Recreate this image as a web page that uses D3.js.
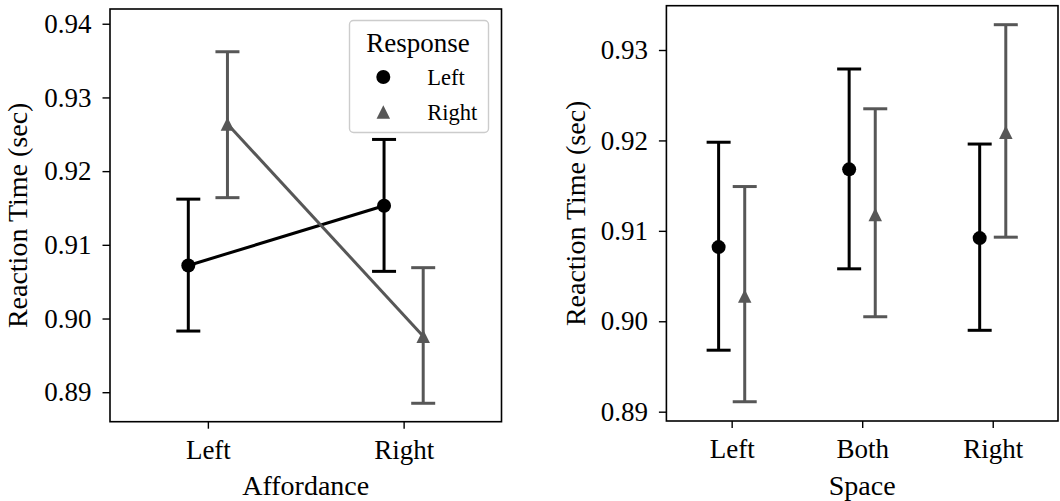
<!DOCTYPE html>
<html>
<head>
<meta charset="utf-8">
<script src="https://cdn.jsdelivr.net/npm/d3@7"></script>
<style>
  html, body { margin: 0; padding: 0; background: #fff; }
  svg { display: block; font-family: "Liberation Serif", "Times New Roman", serif; }
</style>
</head>
<body>
<svg id="chart" width="1060" height="501"></svg>
<script>
// ---- data ----
const affordance = ["Left", "Right"];
const affLeftMean = [0.9072, 0.9153];
const affLeftLo = [0.8983, 0.9064];
const affLeftHi = [0.9162, 0.9243];
const affRightMean = [0.9264, 0.8976];
const affRightLo = [0.9164, 0.8885];
const affRightHi = [0.9362, 0.9069];

const space = ["Left", "Both", "Right"];
const spLeftMean = [0.9082, 0.9168, 0.9092];
const spLeftLo = [0.8968, 0.9058, 0.8990];
const spLeftHi = [0.9198, 0.9279, 0.9196];
const spRightMean = [0.9028, 0.9118, 0.9209];
const spRightLo = [0.8911, 0.9005, 0.9093];
const spRightHi = [0.9149, 0.9235, 0.9328];

const affTicks = [0.89, 0.90, 0.91, 0.92, 0.93, 0.94];
const spTicks = [0.89, 0.90, 0.91, 0.92, 0.93];
const responses = ["Left", "Right"];

const black = "#000";
const grey = "#575757";
const dodge = 0.1;
const lw = 3;

// matplotlib "^" marker: centred on its bounding box
const triangleUp = {
    draw(ctx, size) {
        const h = Math.sqrt(size);
        ctx.moveTo(0, -h / 2);
        ctx.lineTo(h / 2, h / 2);
        ctx.lineTo(-h / 2, h / 2);
        ctx.closePath();
    }
};

const svg = d3.select("#chart");

function drawPanel(cfg) {
    const { left, top, right, bottom } = cfg.box;
    const g = svg.append("g");

    const x = d3.scaleLinear()
        .domain([-0.5, cfg.cats.length - 0.5])
        .range([left, right]);
    const y = d3.scaleLinear()
        .domain(cfg.domain)
        .range([bottom, top]);

    const xAxis = d3.axisBottom(x)
        .tickValues(d3.range(cfg.cats.length))
        .tickFormat(i => cfg.cats[i])
        .tickSize(7)
        .tickPadding(11);
    const yAxis = d3.axisLeft(y)
        .tickValues(cfg.ticks)
        .tickFormat(d3.format(".2f"))
        .tickSize(7.5)
        .tickPadding(11);

    const gx = g.append("g").attr("transform", `translate(0,${bottom})`).call(xAxis);
    const gy = g.append("g").attr("transform", `translate(${left},0)`).call(yAxis);
    [gx, gy].forEach(a => {
        a.select(".domain").remove();
        a.selectAll(".tick line").attr("stroke", "#000").attr("stroke-width", 1.4);
        a.selectAll(".tick text")
            .attr("fill", "#000")
            .style("font-family", "Liberation Serif")
            .style("font-size", "27px");
    });

    cfg.series.forEach(s => {
        const pts = s.mean.map((m, i) => ({ x: x(i + s.offset), m: y(m), lo: y(s.lo[i]), hi: y(s.hi[i]) }));
        const sg = g.append("g");

        if (cfg.join) {
            sg.append("path")
                .datum(pts)
                .attr("d", d3.line().x(d => d.x).y(d => d.m))
                .attr("fill", "none")
                .attr("stroke", s.color)
                .attr("stroke-width", lw);
        }

        const eb = sg.selectAll(".eb").data(pts).join("g").attr("class", "eb")
            .attr("stroke", s.color).attr("stroke-width", lw);
        eb.append("line").attr("x1", d => d.x).attr("x2", d => d.x).attr("y1", d => d.lo).attr("y2", d => d.hi);
        eb.append("line").attr("x1", d => d.x - 12).attr("x2", d => d.x + 12).attr("y1", d => d.lo).attr("y2", d => d.lo);
        eb.append("line").attr("x1", d => d.x - 12).attr("x2", d => d.x + 12).attr("y1", d => d.hi).attr("y2", d => d.hi);

        sg.selectAll(".mk").data(pts).join("path").attr("class", "mk")
            .attr("transform", d => `translate(${d.x},${d.m})`)
            .attr("d", d3.symbol().type(s.shape === "circle" ? d3.symbolCircle : triangleUp)
                .size(s.shape === "circle" ? Math.PI * 7 * 7 : 13.5 * 13.5))
            .attr("fill", s.color);
    });

    // frame
    g.append("rect")
        .attr("x", left).attr("y", top)
        .attr("width", right - left).attr("height", bottom - top)
        .attr("fill", "none").attr("stroke", "#000").attr("stroke-width", 1.6);

    g.append("text")
        .attr("x", (left + right) / 2).attr("y", 495)
        .attr("text-anchor", "middle")
        .style("font-size", "28px")
        .text(cfg.xlabel);

    g.append("text")
        .attr("transform", `translate(${cfg.ylabelX},${(top + bottom) / 2}) rotate(-90)`)
        .attr("text-anchor", "middle")
        .style("font-size", "28px")
        .text("Reaction Time (sec)");

    return g;
}

const leftPanel = drawPanel({
    box: { left: 110, top: 9, right: 501.5, bottom: 421.7 },
    cats: affordance,
    domain: [0.886, 0.9420],
    ticks: affTicks,
    join: true,
    xlabel: "Affordance",
    ylabelX: 27,
    series: [
        { mean: affLeftMean, lo: affLeftLo, hi: affLeftHi, color: black, shape: "circle", offset: -dodge },
        { mean: affRightMean, lo: affRightLo, hi: affRightHi, color: grey, shape: "triangle", offset: dodge }
    ]
});

drawPanel({
    box: { left: 666.4, top: 5.7, right: 1058, bottom: 421 },
    cats: space,
    domain: [0.88897, 0.9349],
    ticks: spTicks,
    join: false,
    xlabel: "Space",
    ylabelX: 585,
    series: [
        { mean: spLeftMean, lo: spLeftLo, hi: spLeftHi, color: black, shape: "circle", offset: -dodge },
        { mean: spRightMean, lo: spRightLo, hi: spRightHi, color: grey, shape: "triangle", offset: dodge }
    ]
});

// legend (left panel only)
const legend = leftPanel.append("g");
legend.append("rect")
    .attr("x", 349.5).attr("y", 20.5).attr("width", 139).attr("height", 112)
    .attr("rx", 4).attr("ry", 4)
    .attr("fill", "#fff").attr("fill-opacity", 0.8)
    .attr("stroke", "#cccccc").attr("stroke-width", 1.4);
legend.append("text")
    .attr("x", 418).attr("y", 51.5)
    .attr("text-anchor", "middle")
    .style("font-size", "27px")
    .text("Response");
const legendColors = [black, grey];
const legendShapes = [d3.symbolCircle, triangleUp];
const legendSizes = [Math.PI * 7 * 7, 13.5 * 13.5];
responses.forEach((r, i) => {
    const cy = 77 + i * 35;
    legend.append("path")
        .attr("transform", `translate(383.3,${cy})`)
        .attr("d", d3.symbol().type(legendShapes[i]).size(legendSizes[i]))
        .attr("fill", legendColors[i]);
    legend.append("text")
        .attr("x", 427.3).attr("y", cy + 8)
        .style("font-size", "22.5px")
        .text(r);
});
</script>
</body>
</html>
